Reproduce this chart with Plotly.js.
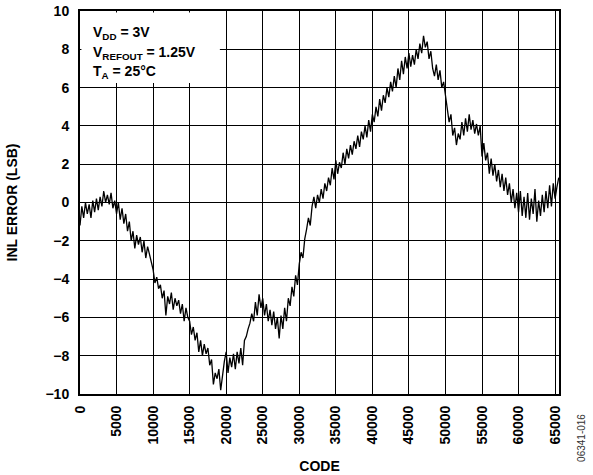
<!DOCTYPE html>
<html>
<head>
<meta charset="utf-8">
<script src="https://cdn.plot.ly/plotly-3.0.1.min.js"></script>
<style>html,body{margin:0;padding:0;background:#fff}#chart{width:593px;height:475px}</style>
</head>
<body>
<div id="chart"></div>
<script>
// INL error (LSB), one reading every 250 codes starting at code 0
const codeStart = 0;
const codeStep = 250;
const inlError = [
  -1.2, -0.2, -0.8, 0.0, -0.6, -0.1, -0.8, 0.1, -0.5, 0.2, -0.4, 0.3, -0.2, 0.6, 0.0, 0.4, -0.1, 0.5, -0.3, 0.1,
  -0.6, 0.0, -0.9, -0.3, -1.1, -0.6, -1.5, -1.0, -2.0, -1.5, -2.4, -1.7, -2.2, -1.8, -2.6, -2.0, -2.9, -2.3, -2.7, -3.1,
  -3.5, -4.2, -3.9, -4.5, -4.3, -5.0, -4.6, -5.9, -4.9, -5.3, -4.7, -5.6, -5.0, -5.4, -5.1, -5.8, -5.3, -6.2, -5.5, -6.0,
  -6.2, -6.9, -6.5, -7.2, -6.8, -7.8, -7.2, -8.0, -7.4, -7.9, -7.6, -8.5, -8.2, -9.5, -8.9, -9.2, -8.7, -9.8, -8.9, -8.3,
  -7.8, -8.9, -8.1, -8.6, -7.9, -8.7, -7.8, -8.4, -7.6, -8.5, -7.2, -7.0, -6.6, -6.3, -5.8, -6.2, -5.2, -5.9, -4.8, -5.5,
  -5.0, -5.9, -5.3, -6.2, -5.6, -6.4, -5.7, -6.6, -6.0, -7.1, -5.9, -6.6, -5.5, -6.2, -5.0, -5.4, -4.4, -4.9, -3.8, -4.3,
  -3.2, -2.6, -2.9, -1.9, -1.4, -0.8, -1.2, -0.2, 0.3, -0.3, 0.4, 0.0, 0.7, 0.2, 1.0, 0.6, 1.3, 0.9, 1.8, 1.2,
  2.2, 1.5, 2.1, 1.8, 2.6, 2.0, 2.8, 2.3, 3.0, 2.5, 3.2, 2.8, 3.5, 2.9, 3.7, 3.3, 4.0, 3.4, 4.3, 3.7,
  4.6, 4.2, 5.0, 4.5, 5.4, 4.8, 5.6, 5.2, 6.0, 5.5, 6.3, 5.8, 6.6, 6.0, 7.0, 6.4, 7.4, 6.7, 7.6, 7.0,
  7.8, 7.1, 7.7, 7.2, 8.0, 7.5, 8.3, 7.8, 8.7, 8.1, 8.4, 7.5, 7.9, 7.0, 6.6, 7.2, 6.4, 6.9, 6.0, 6.3,
  5.6, 4.9, 4.2, 4.6, 3.5, 3.9, 3.0, 3.6, 3.3, 4.2, 3.5, 4.4, 3.7, 4.6, 3.8, 4.3, 3.6, 4.1, 3.5, 4.0,
  2.4, 3.1, 2.2, 2.6, 1.5, 2.3, 1.4, 2.0, 1.1, 1.7, 0.8, 1.5, 0.6, 1.3, 0.4, 1.0, 0.0, 0.7, -0.3, 0.5,
  -0.5, 0.6, -0.7, 0.3, -0.8, 0.5, -0.9, 0.2, -0.6, 0.7, -1.0, 0.1, -0.7, 0.4, -0.5, 0.6, -0.3, 0.9, -0.2, 1.0, 0.2, 0.8, 1.3
];
const xTickVals = [0, 5000, 10000, 15000, 20000, 25000, 30000, 35000, 40000, 45000, 50000, 55000, 60000, 65000];
const xTickText = ['0', '5000', '10000', '15000', '20000', '25000', '30000', '35000', '40000', '45000', '50000', '55000', '60000', '65000'];
const yTickVals = [-10, -8, -6, -4, -2, 0, 2, 4, 6, 8, 10];
const xTitle = 'CODE';
const yTitle = 'INL ERROR (LSB)';
const conditionLines = ['V<sub>DD</sub> = 3V', 'V<sub>REFOUT</sub> = 1.25V', 'T<sub>A</sub> = 25°C'];
const figId = '06341-016';

const F = 'Liberation Sans, Arial, sans-serif';
const boldFont = {family: F, size: 14, color: '#000', weight: 'bold'};
const trace = {
  type: 'scatter', mode: 'lines',
  x0: codeStart, dx: codeStep, y: inlError,
  line: {color: '#000', width: 1.3},
  hoverinfo: 'skip'
};
const axBase = {
  showgrid: true, gridcolor: '#000', gridwidth: 1,
  showline: true, linecolor: '#000', linewidth: 2, mirror: true,
  zeroline: false, ticks: '',
  tickfont: boldFont
};
const lineAnns = conditionLines.map((t, i) => ({
  xref: 'paper', yref: 'paper', x: 0.022, y: 0.971 - i * 0.051,
  xanchor: 'left', yanchor: 'top', align: 'left', showarrow: false,
  text: t, font: boldFont
}));
const layout = {
  width: 593, height: 475,
  margin: {l: 80, r: 34, t: 11, b: 81},
  paper_bgcolor: '#fff', plot_bgcolor: '#fff',
  showlegend: false,
  xaxis: Object.assign({}, axBase, {
    range: [0, 65535], tickvals: xTickVals, ticktext: xTickText, tickangle: -90, ticklabelstandoff: 4,
    title: {text: xTitle, font: boldFont, standoff: 18},
    automargin: false
  }),
  yaxis: Object.assign({}, axBase, {
    range: [-10, 10], tickvals: yTickVals, ticklabelstandoff: 6,
    title: {text: yTitle, font: boldFont, standoff: 25},
    automargin: false
  }),
  shapes: [{
    type: 'rect', xref: 'paper', yref: 'paper', layer: 'above',
    x0: 0.003, x1: 0.292, y0: 0.812, y1: 0.996,
    fillcolor: '#fff', line: {width: 0}
  }],
  annotations: lineAnns.concat([
    {xref: 'paper', yref: 'paper', x: 1.047, y: -0.048, xanchor: 'center', yanchor: 'top',
     textangle: -90, showarrow: false, text: figId,
     font: {family: F, size: 10, color: '#333'}}
  ])
};
Plotly.newPlot('chart', [trace], layout, {displayModeBar: false, staticPlot: true});
</script>
</body>
</html>
